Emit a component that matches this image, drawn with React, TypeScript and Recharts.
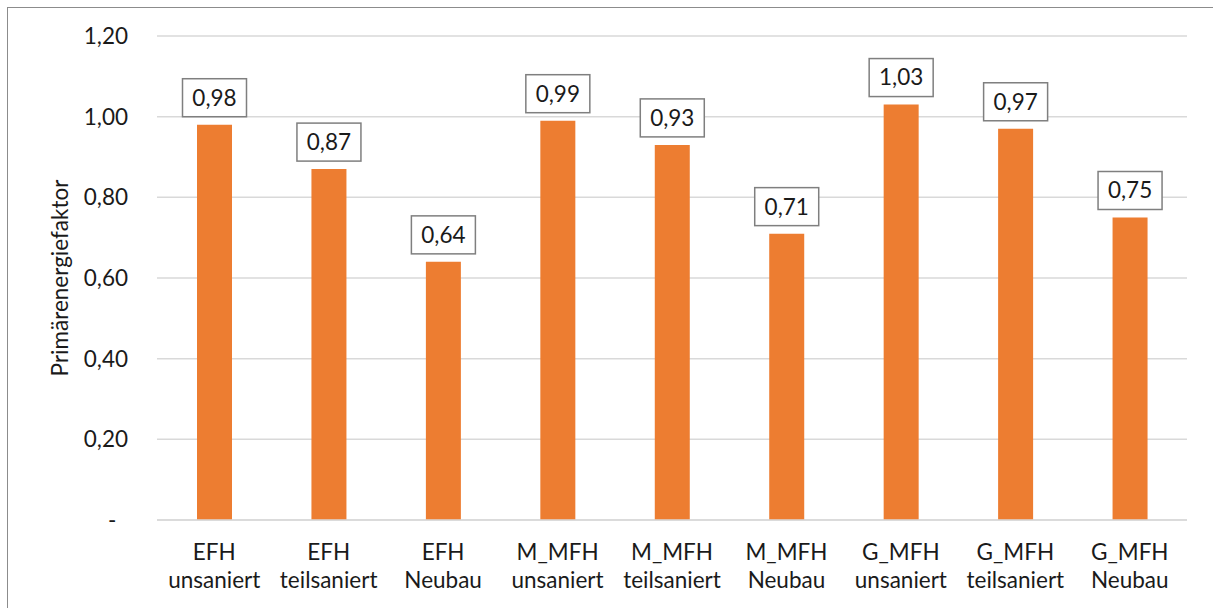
import { BarChart, Bar, XAxis, YAxis, CartesianGrid, LabelList } from 'recharts';

const buildings = ['EFH', 'EFH', 'EFH', 'M_MFH', 'M_MFH', 'M_MFH', 'G_MFH', 'G_MFH', 'G_MFH'];
const states = ['unsaniert', 'teilsaniert', 'Neubau', 'unsaniert', 'teilsaniert', 'Neubau', 'unsaniert', 'teilsaniert', 'Neubau'];
const factors = [0.98, 0.87, 0.64, 0.99, 0.93, 0.71, 1.03, 0.97, 0.75];
const yTicks = [0, 0.2, 0.4, 0.6, 0.8, 1.0, 1.2];

const data = factors.map((v, i) => ({ name: `${buildings[i]} ${states[i]}`, building: buildings[i], state: states[i], value: v }));

const FONT = 'Lato, "Open Sans", sans-serif';
const TEXT = '#1a1a1a';
const FS = 22.5;

const fmt = (v: number) => (v === 0 ? '-\u00A0\u00A0' : v.toFixed(2).replace('.', ','));

function CategoryTick(props: any) {
  const { x, y, payload } = props;
  const row = data[payload.index];
  return (
    <text x={x} y={y} textAnchor="middle" fontFamily={FONT} fontSize={FS} fill={TEXT}>
      <tspan x={x} dy={40}>{row.building}</tspan>
      <tspan x={x} dy={28}>{row.state}</tspan>
    </text>
  );
}

function BoxLabel(props: any) {
  const { x, y, width, value } = props;
  const cx = x + width / 2;
  const boxW = 64;
  const boxH = 38;
  const bottom = y - 8;
  return (
    <g>
      <rect x={cx - boxW / 2} y={bottom - boxH} width={boxW} height={boxH} fill="#fff" stroke="#7f7f7f" strokeWidth={1.5} />
      <text x={cx} y={bottom - boxH / 2} dy="0.35em" textAnchor="middle" fontFamily={FONT} fontSize={FS} fill={TEXT}>
        {fmt(value)}
      </text>
    </g>
  );
}

function AxisTitle(props: any) {
  const { viewBox } = props;
  const cx = viewBox.x + 60;
  const cy = viewBox.y + viewBox.height / 2;
  return (
    <text x={cx} y={cy} transform={`rotate(-90 ${cx} ${cy})`} dy="0.35em" textAnchor="middle" fontFamily={FONT} fontSize={FS} fill={TEXT}>
      Primärenergiefaktor
    </text>
  );
}

export default function App() {
  return (
    <div style={{ position: 'absolute', left: 0, top: 0, width: 1213, height: 608, overflow: 'hidden', background: '#fff' }}>
      <div style={{ position: 'absolute', left: 7, top: 7, width: 1300, height: 700, border: '1px solid #8c8c8c' }} />
      <div style={{ position: 'absolute', left: 0, top: 0 }}>
        <BarChart width={1213} height={608} data={data} margin={{ top: 36, right: 26, bottom: 0, left: 0 }}>
          <CartesianGrid vertical={false} stroke="#d9d9d9" strokeWidth={1.5} />
          <XAxis
            dataKey="name"
            height={88}
            axisLine={{ stroke: '#d9d9d9', strokeWidth: 1.5 }}
            tickLine={false}
            tickSize={0}
            tickMargin={0}
            interval={0}
            tick={<CategoryTick />}
          />
          <YAxis
            width={157}
            domain={[0, 1.2]}
            ticks={yTicks}
            tickFormatter={fmt}
            axisLine={false}
            tickLine={false}
            tickSize={0}
            tickMargin={29}
            tick={{ fontFamily: FONT, fontSize: FS, fill: TEXT }}
            label={<AxisTitle />}
          />
          <Bar dataKey="value" fill="#ED7D31" barSize={35} isAnimationActive={false}>
            <LabelList dataKey="value" content={<BoxLabel />} />
          </Bar>
        </BarChart>
      </div>
    </div>
  );
}
